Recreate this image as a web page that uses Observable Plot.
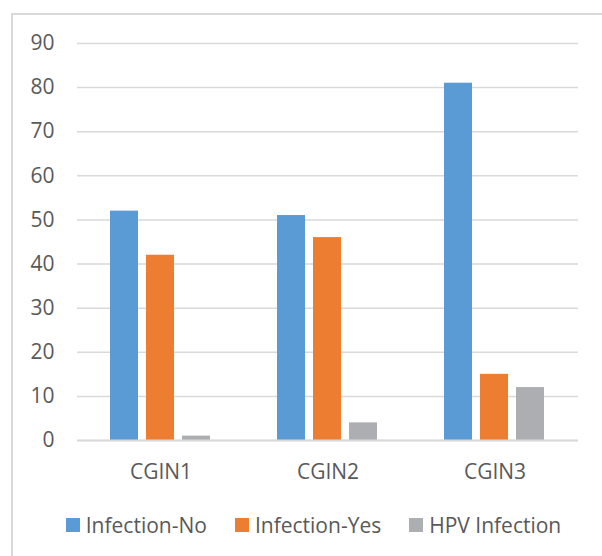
<!DOCTYPE html>
<html>
<head>
<meta charset="utf-8">
<script src="https://cdn.jsdelivr.net/npm/d3@7"></script>
<script src="https://cdn.jsdelivr.net/npm/@observablehq/plot@0.6"></script>
<style>
  html, body { margin: 0; padding: 0; background: #fff; }
  #wrap { position: relative; width: 602px; height: 556px; overflow: hidden; background: #fff; }
  #frame { position: absolute; left: 11px; top: 13px; width: 620px; height: 600px; border: 2px solid #d9d9d9; box-sizing: border-box; }
  #chart { position: absolute; left: 0; top: 0; }
  #legend { position: absolute; left: 0; top: 511px; width: 627px; display: flex; justify-content: center; gap: 28px;
            font-family: "Open Sans", sans-serif; font-size: 21px; color: #595959; }
  #legend .item { display: flex; align-items: center; }
  #legend .sw { width: 14px; height: 14px; margin-right: 6px; display: inline-block; }
</style>
</head>
<body>
<div id="wrap">
  <div id="frame"></div>
  <div id="chart"></div>
  <div id="legend"></div>
</div>
<script>
const categories = ["CGIN1", "CGIN2", "CGIN3"];
const series = ["Infection-No", "Infection-Yes", "HPV Infection"];
const infectionNo = [52, 51, 81];
const infectionYes = [42, 46, 15];
const hpvInfection = [1, 4, 12];
const yTicks = [0, 10, 20, 30, 40, 50, 60, 70, 80, 90];
const colors = ["#5B9BD5", "#ED7D31", "#ADAEB2"];

const seriesValues = [infectionNo, infectionYes, hpvInfection];
const data = [];
categories.forEach((c, i) => {
  series.forEach((s, j) => data.push({category: c, series: s, value: seriesValues[j][i]}));
});

const chart = Plot.plot({
  width: 602,
  height: 490,
  marginLeft: 76,
  marginRight: 24,
  marginTop: 43,
  marginBottom: 50,
  style: {fontFamily: "'Open Sans', sans-serif", fontSize: "21px", color: "#595959", background: "transparent"},
  fx: {domain: categories, padding: 0, label: null, tickSize: 0, tickPadding: 24, axis: "bottom"},
  x: {domain: series, axis: null, paddingInner: 0.216, paddingOuter: 0.868},
  y: {domain: [0, 90], ticks: yTicks, tickSize: 0, tickPadding: 23, label: null},
  color: {domain: series, range: colors},
  marks: [
    Plot.ruleY(yTicks, {stroke: "#d9d9d9", strokeWidth: 1.5}),
    Plot.barY(data, {fx: "category", x: "series", y: "value", fill: "series"}),
    Plot.ruleY([0], {stroke: "#d9d9d9", strokeWidth: 2})
  ]
});
document.getElementById("chart").appendChild(chart);

const legend = document.getElementById("legend");
series.forEach((s, i) => {
  const item = document.createElement("div");
  item.className = "item";
  const sw = document.createElement("span");
  sw.className = "sw";
  sw.style.background = colors[i];
  const t = document.createElement("span");
  t.textContent = s;
  item.appendChild(sw);
  item.appendChild(t);
  legend.appendChild(item);
});
</script>
</body>
</html>
